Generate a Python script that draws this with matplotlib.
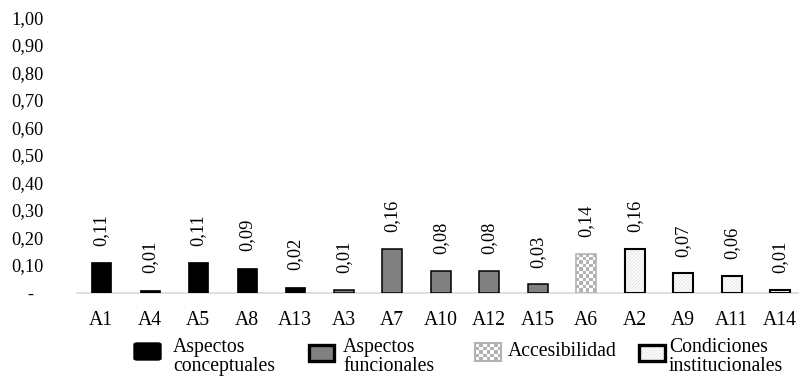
import numpy as np
import matplotlib
matplotlib.use("Agg")
import matplotlib.pyplot as plt
from matplotlib.patches import Rectangle, FancyBboxPatch
from matplotlib.ticker import FuncFormatter, MultipleLocator

plt.rcParams['font.family'] = ['Liberation Serif', 'DejaVu Serif']
plt.rcParams['hatch.linewidth'] = 0.6

# Items grouped by dimension
categories = ["A1", "A4", "A5", "A8", "A13", "A3", "A7", "A10", "A12", "A15",
              "A6", "A2", "A9", "A11", "A14"]
values = [0.11, 0.01, 0.11, 0.09, 0.02, 0.01, 0.16, 0.08, 0.08, 0.03,
          0.14, 0.16, 0.07, 0.06, 0.01]
groups = ["conceptual"] * 5 + ["funcional"] * 5 + ["accesibilidad"] + ["institucional"] * 4
legend_labels = ["Aspectos\nconceptuales", "Aspectos\nfuncionales",
                 "Accesibilidad", "Condiciones\ninstitucionales"]

W, H = 799, 379
fig = plt.figure(figsize=(W / 100, H / 100), dpi=100)

FS_NUM = 13.2   # y tick and value labels
FS_TXT = 14.2   # category labels and legend
HATCH_C = "#e0e0e0"
CHECK_GRAY = "#b3b3b3"
LSP = 1.0


def fx(x):
    return x / W


def fy(y):
    return 1 - y / H


# plot area (the right end runs past the canvas edge)
left_px, right_px, top_px, base_px = 77, 804.5, 17.5, 292.5
ax = fig.add_axes([fx(left_px), fy(base_px), fx(right_px - left_px),
                   (base_px - top_px) / H])
ax.set_xlim(-0.5, len(categories) - 0.5)
ax.set_ylim(0, 1.0)

bar_w = 0.41

for i, (v, g) in enumerate(zip(values, groups)):
    if g == "conceptual":
        ax.bar(i, v, bar_w, color="black", edgecolor="black", linewidth=0.5, zorder=2)
    elif g == "funcional":
        ax.bar(i, v, bar_w, color="#808080", edgecolor="black", linewidth=1.1, zorder=2)
    elif g == "accesibilidad":
        bars = ax.bar(i, v, bar_w, color="white", edgecolor=CHECK_GRAY, linewidth=1.2, zorder=3)
        bar = bars[0]
        # checkerboard fill, ~3.5 px cells
        px_per_x = (right_px - left_px) / len(categories)
        px_per_y = (base_px - top_px) / 1.0
        nx = max(1, int(round(bar_w * px_per_x / 3.5)))
        ny = max(1, int(round(v * px_per_y / 3.5)))
        checker = (np.add.outer(np.arange(ny), np.arange(nx)) % 2).astype(float)
        img = ax.imshow(checker, cmap=matplotlib.colors.ListedColormap(["white", CHECK_GRAY]),
                        extent=(i - bar_w / 2, i + bar_w / 2, 0, v), origin="lower",
                        interpolation="nearest", aspect="auto", zorder=2)
        img.set_clip_path(bar)
        bar.set_facecolor("none")
    else:
        ax.bar(i, v, bar_w, color="white", edgecolor=HATCH_C, hatch="//////////",
               linewidth=0, zorder=2)
        ax.bar(i, v, bar_w, color="none", edgecolor="black", linewidth=1.5, zorder=3)

    ax.annotate(f"{v:.2f}".replace(".", ","), (i, v), xytext=(0, 12),
                textcoords="offset points", rotation=90, ha="center", va="bottom",
                fontsize=FS_NUM, color="black")

ax.set_xticks(range(len(categories)))
ax.set_xticklabels(categories, fontsize=FS_TXT)
ax.yaxis.set_major_locator(MultipleLocator(0.1))
ax.yaxis.set_major_formatter(FuncFormatter(
    lambda y, _: "-  " if abs(y) < 1e-9 else f"{y:.2f}".replace(".", ",")))
ax.tick_params(axis="y", length=0, pad=24, labelsize=FS_NUM)
ax.tick_params(axis="x", length=0, pad=13)
for s in ["top", "right", "left"]:
    ax.spines[s].set_visible(False)
ax.spines["bottom"].set_color("#d9d9d9")
ax.spines["bottom"].set_linewidth(1.2)
ax.spines["bottom"].set_zorder(1)

# legend row under the chart
# 1: conceptual
fig.add_artist(FancyBboxPatch((fx(134), fy(360)), fx(27), (360 - 343) / H,
                              boxstyle="round,pad=0,rounding_size=0.004",
                              transform=fig.transFigure, facecolor="black",
                              edgecolor="black", linewidth=1))
fig.text(fx(173), fy(338), legend_labels[0], fontsize=FS_TXT, ha="left", va="top",
         linespacing=LSP)
# 2: funcional
fig.add_artist(Rectangle((fx(308.5), fy(360.5)), fx(25), (360.5 - 344.5) / H,
                         transform=fig.transFigure, facecolor="#808080",
                         edgecolor="black", linewidth=2.4))
fig.text(fx(343), fy(338), legend_labels[1], fontsize=FS_TXT, ha="left", va="top",
         linespacing=LSP)
# 3: accesibilidad (checkerboard key)
kax = fig.add_axes([fx(475), fy(361), fx(26), (361 - 343) / H])
kchk = (np.add.outer(np.arange(5), np.arange(7)) % 2).astype(float)
kax.imshow(kchk, cmap=matplotlib.colors.ListedColormap(["white", CHECK_GRAY]),
           interpolation="nearest", aspect="auto")
kax.set_xticks([])
kax.set_yticks([])
for s in kax.spines.values():
    s.set_color(CHECK_GRAY)
    s.set_linewidth(1.5)
fig.text(fx(508), fy(351), legend_labels[2], fontsize=FS_TXT, ha="left", va="center")
# 4: institucional
fig.add_artist(Rectangle((fx(639), fy(360.5)), fx(26), (360.5 - 344.5) / H,
                         transform=fig.transFigure, facecolor="white",
                         edgecolor=HATCH_C, hatch="//////////", linewidth=0))
fig.add_artist(Rectangle((fx(639), fy(360.5)), fx(26), (360.5 - 344.5) / H,
                         transform=fig.transFigure, facecolor="none",
                         edgecolor="black", linewidth=2.4))
fig.text(fx(669), fy(338), legend_labels[3], fontsize=FS_TXT, ha="left", va="top",
         linespacing=LSP)

fig.savefig("out.png", dpi=100)
